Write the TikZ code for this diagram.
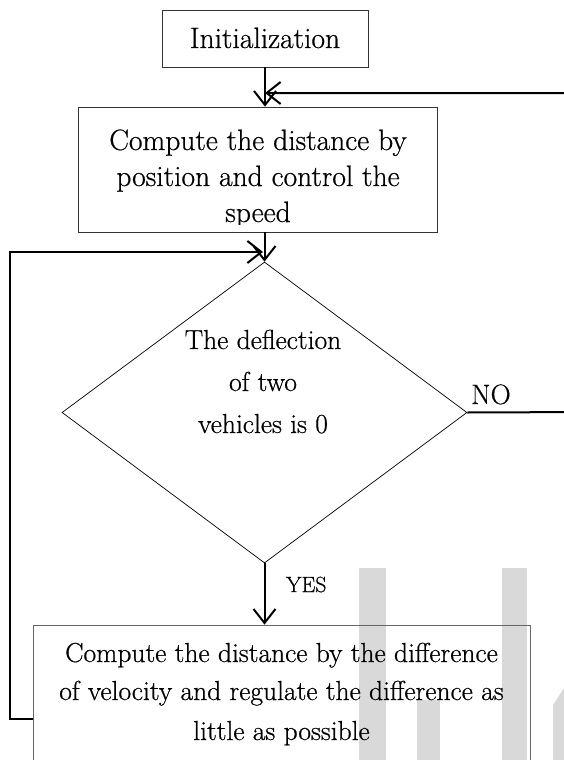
\documentclass[tikz,border=0pt]{standalone}
\usepackage{fontspec}
\usetikzlibrary{shapes.geometric,arrows.meta}
\newfontfamily\heavylm[FakeBold=0.6]{Latin Modern Roman}
\begin{document}
\begin{tikzpicture}[x=1pt,y=-1pt,
  big/.style={font=\heavylm\fontsize{29.5}{36}\selectfont, inner sep=0pt, anchor=base},
  mid/.style={font=\heavylm\fontsize{27.5}{36}\selectfont, inner sep=0pt, anchor=base},
  boxa/.style={draw=black!80, line width=0.8pt, inner sep=0pt},
  boxb/.style={draw=black!60, line width=0.8pt, inner sep=0pt},
  conn/.style={line width=2pt, -{Straight Barb[length=14pt,width=22pt,line width=2pt]}},
  wm/.style={fill=black!15, draw=none}]
\useasboundingbox (0,0) rectangle (564,760);
% watermark
\fill[wm] (359,568) rectangle (386,760);
\fill[wm] (502,568) rectangle (527,760);
\fill[wm] (417,700) rectangle (440,760);
\fill[wm] (553,705) -- (564,688) -- (564,760) -- (553,760) -- cycle;
% boxes
\node[boxa, minimum width=206pt, minimum height=57pt] (init) at (265,38.5) {};
\node[big] (inittxt) at (265,48) {Initialization};
\node[boxa, minimum width=359pt, minimum height=125pt] (comp1) at (257.5,169.5) {};
\node[big] (c1a) at (258,150) {Compute the distance by};
\node[big] (c1b) at (258,186) {position and control the};
\begin{scope}
\clip (79,108) rectangle (436,224.5);
\node[big] (c1c) at (258,222) {speed};
\end{scope}
\node[draw=black, line width=0.7pt, shape=diamond, minimum width=405pt, minimum height=301pt, inner sep=0pt] (dia) at (264.5,412.5) {};
\node[mid] (d1) at (263,349) {The deflection};
\node[mid] (d2) at (263,391) {of two};
\node[mid] (d3) at (263,433) {vehicles is 0};
\node[font=\heavylm\fontsize{28}{34}\selectfont, inner sep=0pt, anchor=base west] (no) at (471,404) {NO};
\node[font=\heavylm\fontsize{22}{30}\selectfont, inner sep=0pt, anchor=base west] (yes) at (286,592) {YES};
\node[boxb, minimum width=497pt, minimum height=188pt] (comp2) at (281.5,719) {};
\node[mid] (c2a) at (281.5,662) {Compute the distance by the difference};
\node[mid] (c2b) at (281.5,700) {of velocity and regulate the difference as};
\node[mid] (c2c) at (281.5,740) {little as possible};
% connectors
\coordinate (backend) at (265,93);
\coordinate (loopend) at (263,252);
\draw[conn] (init.south) -- (init.south |- comp1.north);
\draw[conn] (dia.east) -- (590,412) -- (590,93) -- (backend);
\draw[conn] (comp1.south -| dia.north) -- (dia.north);
\draw[conn] (dia.south) -- (dia.south |- comp2.north);
\draw[conn] (comp2.west) -- (10,719) -- (10,252) -- (loopend);
\end{tikzpicture}
\end{document}
